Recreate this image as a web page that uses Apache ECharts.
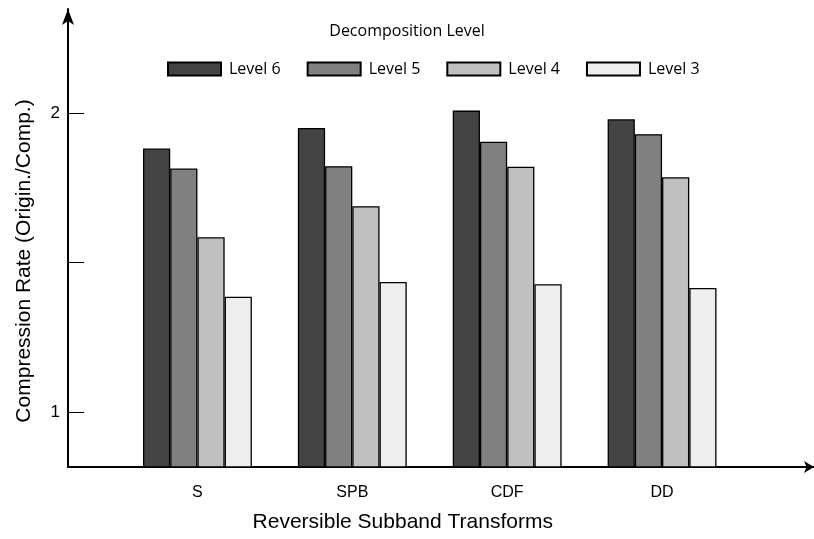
<!DOCTYPE html>
<html>
<head>
<meta charset="utf-8">
<script src="https://cdn.jsdelivr.net/npm/echarts@6/dist/echarts.min.js"></script>
<style>
  html, body { margin: 0; padding: 0; background: #ffffff; }
  #chart { width: 814px; height: 539px; }
</style>
</head>
<body>
<div id="chart"></div>
<script>
// Compression rate of each reversible subband transform, per decomposition level
const transforms = ['S', 'SPB', 'CDF', 'DD'];
const levelNames = ['Level 6', 'Level 5', 'Level 4', 'Level 3'];
const level6 = [1.882, 1.951, 2.009, 1.980];
const level5 = [1.815, 1.823, 1.905, 1.930];
const level4 = [1.585, 1.689, 1.821, 1.786];
const level3 = [1.386, 1.435, 1.428, 1.415];
const levelValues = [level6, level5, level4, level3];
const levelColors = ['#444444', '#808080', '#c0c0c0', '#eeeeee'];

// y axis range and its marks
const yMin = 0.816;
const yMax = 2.349;
const yTickValues = [1, 1.5, 2];
const yLabelValues = [1, 2];

const sansSerif = '"Liberation Sans", Arial, sans-serif';
const humanist = '"Open Sans", "Noto Sans", sans-serif';

const chart = echarts.init(document.getElementById('chart'), null, { renderer: 'canvas' });

const series = levelNames.map((name, i) => ({
  name: name,
  type: 'bar',
  xAxisIndex: 1,
  yAxisIndex: 1,
  data: levelValues[i],
  barGap: '0%',
  barCategoryGap: '29.7%',
  itemStyle: { color: levelColors[i], borderColor: '#000000', borderWidth: 1.3 },
  emphasis: { disabled: true },
  animation: false
}));

chart.setOption({
  animation: false,
  backgroundColor: '#ffffff',
  title: {
    text: 'Decomposition Level',
    left: 'center',
    top: 23,
    padding: [0, 4, 0, 0],
    textStyle: { fontFamily: humanist, fontSize: 16, fontWeight: 'normal', color: '#000000' }
  },
  legend: {
    data: levelNames,
    left: 167,
    top: 61,
    padding: 0,
    itemWidth: 53,
    itemHeight: 13,
    itemGap: 26,
    icon: 'rect',
    textStyle: { fontFamily: humanist, fontSize: 16, color: '#000000', padding: [0, 0, 0, 3] },
    selectedMode: false
  },
  grid: [
    // frame holding the arrowed axes
    { left: 68, right: 0, top: 9, bottom: 72, containLabel: false },
    // band holding the bar groups
    { left: 120, right: 74.5, top: 9, bottom: 72, containLabel: false }
  ],
  xAxis: [
    {
      type: 'value', gridIndex: 0, min: 0, max: 1,
      axisLine: { show: true, symbol: ['none', 'arrow'], symbolSize: [9, 10], lineStyle: { color: '#000000', width: 2 } },
      axisTick: { show: false },
      axisLabel: { show: false },
      splitLine: { show: false }
    },
    {
      type: 'category', gridIndex: 1, data: transforms,
      axisLine: { show: false },
      axisTick: { show: false },
      axisLabel: { fontFamily: sansSerif, fontSize: 16, color: '#000000', margin: 18 },
      splitLine: { show: false },
      name: 'Reversible Subband Transforms',
      nameLocation: 'middle',
      nameGap: 45,
      nameTextStyle: { fontFamily: sansSerif, fontSize: 21, color: '#000000', padding: [0, 54, 0, 0] }
    }
  ],
  yAxis: [
    {
      type: 'value', gridIndex: 0, min: yMin, max: yMax,
      axisLine: { show: true, symbol: ['none', 'arrow'], symbolSize: [9, 16], lineStyle: { color: '#000000', width: 2 } },
      axisTick: { show: true, inside: true, length: 16, lineStyle: { color: '#000000', width: 1 }, customValues: yTickValues },
      axisLabel: { show: true, margin: 8, fontFamily: sansSerif, fontSize: 17, color: '#000000', customValues: yLabelValues, formatter: v => String(v) },
      splitLine: { show: false },
      name: 'Compression Rate (Origin./Comp.)',
      nameLocation: 'middle',
      nameRotate: 90,
      nameGap: 33,
      nameTextStyle: { fontFamily: sansSerif, fontSize: 21, color: '#000000', padding: [0, 46, 0, 0] }
    },
    {
      type: 'value', gridIndex: 1, min: yMin, max: yMax, show: false
    }
  ],
  series: series
});
</script>
</body>
</html>
